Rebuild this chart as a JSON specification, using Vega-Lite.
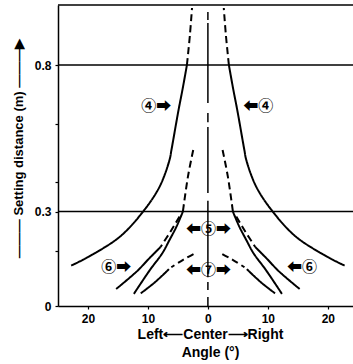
{
  "$schema": "https://vega.github.io/schema/vega-lite/v6.json",
  "width": 295,
  "height": 301,
  "autosize": {"type": "none"},
  "padding": {"left": 58, "top": 5, "right": 0, "bottom": 58},
  "background": "white",
  "config": {
    "view": {"stroke": null},
    "axis": {"grid": false, "domainColor": "black", "domainWidth": 1.5, "tickColor": "black", "tickWidth": 1.2, "labelColor": "black", "titleColor": "black", "labelFont": "Liberation Sans", "titleFont": "Liberation Sans", "labelFontWeight": "bold", "titleFontWeight": "bold"}
  },
  "datasets": {
    "curves": [
      {"seg": "4sL", "style": "solid", "o": 1, "x": -3.5, "y": 0.8},
      {"seg": "4sL", "style": "solid", "o": 2, "x": -4.2, "y": 0.72},
      {"seg": "4sL", "style": "solid", "o": 3, "x": -4.9, "y": 0.646},
      {"seg": "4sL", "style": "solid", "o": 4, "x": -6.08, "y": 0.51},
      {"seg": "4sL", "style": "solid", "o": 5, "x": -6.4, "y": 0.476},
      {"seg": "4sL", "style": "solid", "o": 6, "x": -8.05, "y": 0.385},
      {"seg": "4sL", "style": "solid", "o": 7, "x": -10.8, "y": 0.3},
      {"seg": "4sL", "style": "solid", "o": 8, "x": -14.7, "y": 0.236},
      {"seg": "4sL", "style": "solid", "o": 9, "x": -20, "y": 0.178},
      {"seg": "4sL", "style": "solid", "o": 10, "x": -22.8, "y": 0.147},
      {"seg": "4sR", "style": "solid", "o": 1, "x": 3.5, "y": 0.8},
      {"seg": "4sR", "style": "solid", "o": 2, "x": 4.2, "y": 0.72},
      {"seg": "4sR", "style": "solid", "o": 3, "x": 4.9, "y": 0.646},
      {"seg": "4sR", "style": "solid", "o": 4, "x": 6.08, "y": 0.51},
      {"seg": "4sR", "style": "solid", "o": 5, "x": 6.4, "y": 0.476},
      {"seg": "4sR", "style": "solid", "o": 6, "x": 8.05, "y": 0.385},
      {"seg": "4sR", "style": "solid", "o": 7, "x": 10.8, "y": 0.3},
      {"seg": "4sR", "style": "solid", "o": 8, "x": 14.7, "y": 0.236},
      {"seg": "4sR", "style": "solid", "o": 9, "x": 20, "y": 0.178},
      {"seg": "4sR", "style": "solid", "o": 10, "x": 22.8, "y": 0.147},
      {"seg": "4dL", "style": "dashed", "o": 1, "x": -3.5, "y": 0.8},
      {"seg": "4dL", "style": "dashed", "o": 2, "x": -3.0, "y": 0.9},
      {"seg": "4dL", "style": "dashed", "o": 3, "x": -2.65, "y": 0.99},
      {"seg": "4dR", "style": "dashed", "o": 1, "x": 3.5, "y": 0.8},
      {"seg": "4dR", "style": "dashed", "o": 2, "x": 3.0, "y": 0.9},
      {"seg": "4dR", "style": "dashed", "o": 3, "x": 2.65, "y": 0.99},
      {"seg": "5dL", "style": "dashed", "o": 1, "x": -2.45, "y": 0.51},
      {"seg": "5dL", "style": "dashed", "o": 2, "x": -3.33, "y": 0.419},
      {"seg": "5dL", "style": "dashed", "o": 3, "x": -4.17, "y": 0.3},
      {"seg": "5dR", "style": "dashed", "o": 1, "x": 2.45, "y": 0.51},
      {"seg": "5dR", "style": "dashed", "o": 2, "x": 3.33, "y": 0.419},
      {"seg": "5dR", "style": "dashed", "o": 3, "x": 4.17, "y": 0.3},
      {"seg": "5sL", "style": "solid", "o": 1, "x": -4.17, "y": 0.3},
      {"seg": "5sL", "style": "solid", "o": 2, "x": -5.2, "y": 0.263},
      {"seg": "5sL", "style": "solid", "o": 3, "x": -6.4, "y": 0.228},
      {"seg": "5sL", "style": "solid", "o": 4, "x": -7.6, "y": 0.192},
      {"seg": "5sL", "style": "solid", "o": 5, "x": -9.67, "y": 0.131},
      {"seg": "5sL", "style": "solid", "o": 6, "x": -12.35, "y": 0.044},
      {"seg": "5sR", "style": "solid", "o": 1, "x": 4.17, "y": 0.3},
      {"seg": "5sR", "style": "solid", "o": 2, "x": 5.2, "y": 0.263},
      {"seg": "5sR", "style": "solid", "o": 3, "x": 6.4, "y": 0.228},
      {"seg": "5sR", "style": "solid", "o": 4, "x": 7.6, "y": 0.192},
      {"seg": "5sR", "style": "solid", "o": 5, "x": 9.67, "y": 0.131},
      {"seg": "5sR", "style": "solid", "o": 6, "x": 12.35, "y": 0.044},
      {"seg": "6dL", "style": "dashed", "o": 1, "x": -4.73, "y": 0.287},
      {"seg": "6dL", "style": "dashed", "o": 2, "x": -6.2, "y": 0.25},
      {"seg": "6dL", "style": "dashed", "o": 3, "x": -7.9, "y": 0.21},
      {"seg": "6dR", "style": "dashed", "o": 1, "x": 4.73, "y": 0.287},
      {"seg": "6dR", "style": "dashed", "o": 2, "x": 6.2, "y": 0.25},
      {"seg": "6dR", "style": "dashed", "o": 3, "x": 7.9, "y": 0.21},
      {"seg": "6sL", "style": "solid", "o": 1, "x": -7.9, "y": 0.21},
      {"seg": "6sL", "style": "solid", "o": 2, "x": -9.7, "y": 0.175},
      {"seg": "6sL", "style": "solid", "o": 3, "x": -11.9, "y": 0.125},
      {"seg": "6sL", "style": "solid", "o": 4, "x": -15.3, "y": 0.062},
      {"seg": "6sR", "style": "solid", "o": 1, "x": 7.9, "y": 0.21},
      {"seg": "6sR", "style": "solid", "o": 2, "x": 9.7, "y": 0.175},
      {"seg": "6sR", "style": "solid", "o": 3, "x": 11.9, "y": 0.125},
      {"seg": "6sR", "style": "solid", "o": 4, "x": 15.3, "y": 0.062},
      {"seg": "7dL", "style": "dashed", "o": 1, "x": -2.4, "y": 0.189},
      {"seg": "7dL", "style": "dashed", "o": 2, "x": -4.2, "y": 0.167},
      {"seg": "7dL", "style": "dashed", "o": 3, "x": -6.1, "y": 0.141},
      {"seg": "7dR", "style": "dashed", "o": 1, "x": 2.4, "y": 0.189},
      {"seg": "7dR", "style": "dashed", "o": 2, "x": 4.2, "y": 0.167},
      {"seg": "7dR", "style": "dashed", "o": 3, "x": 6.1, "y": 0.141},
      {"seg": "7sL", "style": "solid", "o": 1, "x": -6.5, "y": 0.134},
      {"seg": "7sL", "style": "solid", "o": 2, "x": -8.8, "y": 0.087},
      {"seg": "7sL", "style": "solid", "o": 3, "x": -11.2, "y": 0.046},
      {"seg": "7sR", "style": "solid", "o": 1, "x": 6.5, "y": 0.134},
      {"seg": "7sR", "style": "solid", "o": 2, "x": 8.8, "y": 0.087},
      {"seg": "7sR", "style": "solid", "o": 3, "x": 11.2, "y": 0.046}
    ],
    "center": [
      {"seg": "c1", "o": 1, "x": 0, "y": 0.977}, {"seg": "c1", "o": 2, "x": 0, "y": 0.95},
      {"seg": "c2", "o": 1, "x": 0, "y": 0.94}, {"seg": "c2", "o": 2, "x": 0, "y": 0.67},
      {"seg": "c3", "o": 1, "x": 0, "y": 0.636}, {"seg": "c3", "o": 2, "x": 0, "y": 0.605},
      {"seg": "c4", "o": 1, "x": 0, "y": 0.588}, {"seg": "c4", "o": 2, "x": 0, "y": 0.363},
      {"seg": "c5", "o": 1, "x": 0, "y": 0.337}, {"seg": "c5", "o": 2, "x": 0, "y": 0.105},
      {"seg": "c6", "o": 1, "x": 0, "y": 0.087}, {"seg": "c6", "o": 2, "x": 0, "y": 0.058},
      {"seg": "c7", "o": 1, "x": 0, "y": 0.033}, {"seg": "c7", "o": 2, "x": 0, "y": 0.0}
    ],
    "refs": [{"y": 0.3}, {"y": 0.8}, {"y": 1.0}],
    "labels": [
      {"label": "④➡", "x": -8.6, "y": 0.66},
      {"label": "⬅④", "x": 8.4, "y": 0.66},
      {"label": "⬅⑤➡", "x": 0.1, "y": 0.256},
      {"label": "⬅⑦➡", "x": 0.1, "y": 0.131},
      {"label": "⑥➡", "x": -15.3, "y": 0.143},
      {"label": "⬅⑥", "x": 15.7, "y": 0.143}
    ]
  },
  "layer": [
    {
      "data": {"name": "refs"},
      "mark": {"type": "rule", "color": "black", "strokeWidth": 1.5},
      "encoding": {
        "y": {"field": "y", "type": "quantitative",
          "scale": {"domain": [0, 0.2, 0.3, 0.8, 1.0], "range": [301, 246, 206.5, 60, 0], "nice": false, "zero": false},
          "axis": {
            "values": [0, 0.2, 0.3, 0.4, 0.6, 0.8],
            "labelExpr": "datum.value == 0 ? '0' : (datum.value == 0.3 ? '0.3' : (datum.value == 0.8 ? '0.8' : ''))",
            "labelFontSize": 12, "labelPadding": 4, "tickSize": 3,
            "title": "——— Setting distance (m) ———▶",
            "titleFontSize": 13, "titleX": -40, "titleY": 143, "titleAlign": "center", "titleBaseline": "middle", "titleAngle": 270
          }
        }
      }
    },
    {
      "data": {"name": "curves"},
      "mark": {"type": "line", "color": "black", "strokeWidth": 2, "interpolate": "catmull-rom"},
      "encoding": {
        "x": {"field": "x", "type": "quantitative",
          "scale": {"domain": [-25, 24.2], "nice": false, "zero": false},
          "axis": {
            "values": [-20, -10, 0, 10, 20],
            "labelExpr": "abs(datum.value)",
            "labelFontSize": 12, "tickSize": 3, "labelPadding": 4,
            "title": ["Left⟵Center⟶Right", "Angle (°)"],
            "titleFontSize": 14, "titleLineHeight": 18, "titlePadding": 3, "titleX": 152
          }
        },
        "y": {"field": "y", "type": "quantitative"},
        "detail": {"field": "seg"},
        "order": {"field": "o", "type": "quantitative"},
        "strokeDash": {"field": "style", "type": "nominal", "scale": {"domain": ["solid", "dashed"], "range": [[1, 0], [7, 4]]}, "legend": null}
      }
    },
    {
      "data": {"name": "center"},
      "mark": {"type": "line", "color": "black", "strokeWidth": 1.5},
      "encoding": {
        "x": {"field": "x", "type": "quantitative"},
        "y": {"field": "y", "type": "quantitative"},
        "detail": {"field": "seg"},
        "order": {"field": "o", "type": "quantitative"}
      }
    },
    {
      "data": {"name": "labels"},
      "mark": {"type": "text", "font": "Noto Sans CJK JP", "fontSize": 15, "fontWeight": "bold", "color": "black", "align": "center", "baseline": "middle"},
      "encoding": {
        "x": {"field": "x", "type": "quantitative"},
        "y": {"field": "y", "type": "quantitative"},
        "text": {"field": "label"}
      }
    }
  ]
}
